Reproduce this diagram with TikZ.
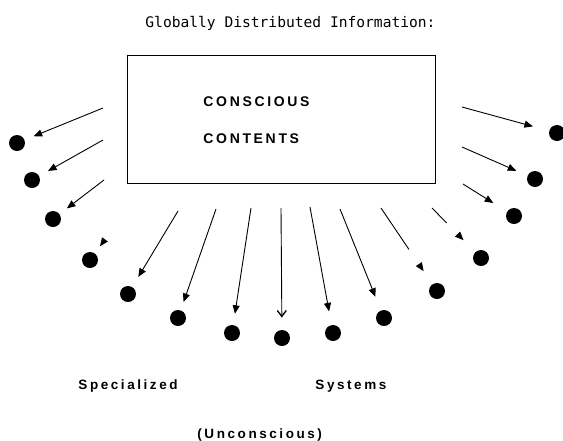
\documentclass[tikz,border=0pt]{standalone}
\usepackage{fontspec}
\usepackage{tikz}
\usetikzlibrary{arrows.meta}
\newfontfamily\titlefont{DejaVu Sans Mono}
\newfontfamily\labelfont[LetterSpace=19]{Liberation Sans}

\begin{document}
\begin{tikzpicture}[x=1pt,y=-1pt,->,>={Triangle[length=8.5pt,width=7pt]},line width=0.9pt,
  main node/.style={circle,fill=black,inner sep=0pt,minimum size=16pt},
  label text/.style={font=\labelfont\bfseries\fontsize{13.5}{15}\selectfont,anchor=base west,inner sep=0pt},
  broken/.style={dash pattern=on #1 off 300pt}]
  \useasboundingbox (0,0) rectangle (563,440);
  % title and the box
  \node[font=\titlefont\fontsize{14.6}{16}\selectfont,anchor=base west,inner sep=0pt] (title) at (145,27) {Globally Distributed Information:};
  \node[draw,line width=1.4pt,minimum width=308pt,minimum height=128pt,inner sep=0pt,anchor=north west] (box) at (127,55) {};
  \node[label text,font=\labelfont\bfseries\fontsize{14}{16}\selectfont] (conscious) at (203,106) {CONSCIOUS};
  \node[label text,font=\labelfont\bfseries\fontsize{14}{16}\selectfont] (contents) at (203,143) {CONTENTS};
  % specialized systems
  \node[main node] (1) at (17,143) {};
  \node[main node] (2) at (32,180) {};
  \node[main node] (3) at (53,219) {};
  \node[main node] (4) at (90,260) {};
  \node[main node] (5) at (128,294) {};
  \node[main node] (6) at (178,318) {};
  \node[main node] (7) at (232,333) {};
  \node[main node] (8) at (282,338) {};
  \node[main node] (9) at (333,333) {};
  \node[main node] (10) at (384,318) {};
  \node[main node] (11) at (437,291) {};
  \node[main node] (12) at (481,258) {};
  \node[main node] (13) at (514,216) {};
  \node[main node] (14) at (535,179) {};
  \node[main node] (15) at (557,133) {};
  \coordinate (t1) at (103,108);
  \coordinate (t2) at (103,140);
  \coordinate (t3) at (104,180);
  \coordinate (t4) at (106,238);
  \coordinate (t5) at (178,211);
  \coordinate (t6) at (216,209);
  \coordinate (t7) at (251,208);
  \coordinate (t8) at (281,208);
  \coordinate (t9) at (310,207);
  \coordinate (t10) at (340,209);
  \coordinate (t11) at (381,208);
  \coordinate (t12) at (432,208);
  \coordinate (t13) at (463,184);
  \coordinate (t14) at (462,147);
  \coordinate (t15) at (462,107);
  \path
    (t1) edge[shorten >=9.5pt] (1)
    (t2) edge[shorten >=10pt] (2)
    (t3) edge[shorten >=9pt] (3)
    (t4) edge[shorten >=8.5pt,broken=0pt] (4)
    (t5) edge[shorten >=11.5pt] (5)
    (t6) edge[shorten >=8.5pt] (6)
    (t7) edge[shorten >=11pt] (7)
    (t8) edge[shorten >=12pt,-{Straight Barb[length=6pt,width=9pt,line width=1.3pt]}] (8)
    (t9) edge[shorten >=13.5pt] (9)
    (t10) edge[shorten >=14.5pt] (10)
    (t11) edge[shorten >=15.5pt,broken=50pt] (11)
    (t12) edge[shorten >=16.5pt,broken=21pt] (12)
    (t13) edge[shorten >=16pt] (13)
    (t14) edge[shorten >=12pt] (14)
    (t15) edge[shorten >=16.5pt] (15);
  \node[label text] (specialized) at (78,389) {Specialized};
  \node[label text] (systems) at (315,389) {Systems};
  \node[label text] (unconscious) at (197,438) {(Unconscious)};
\end{tikzpicture}
\end{document}
